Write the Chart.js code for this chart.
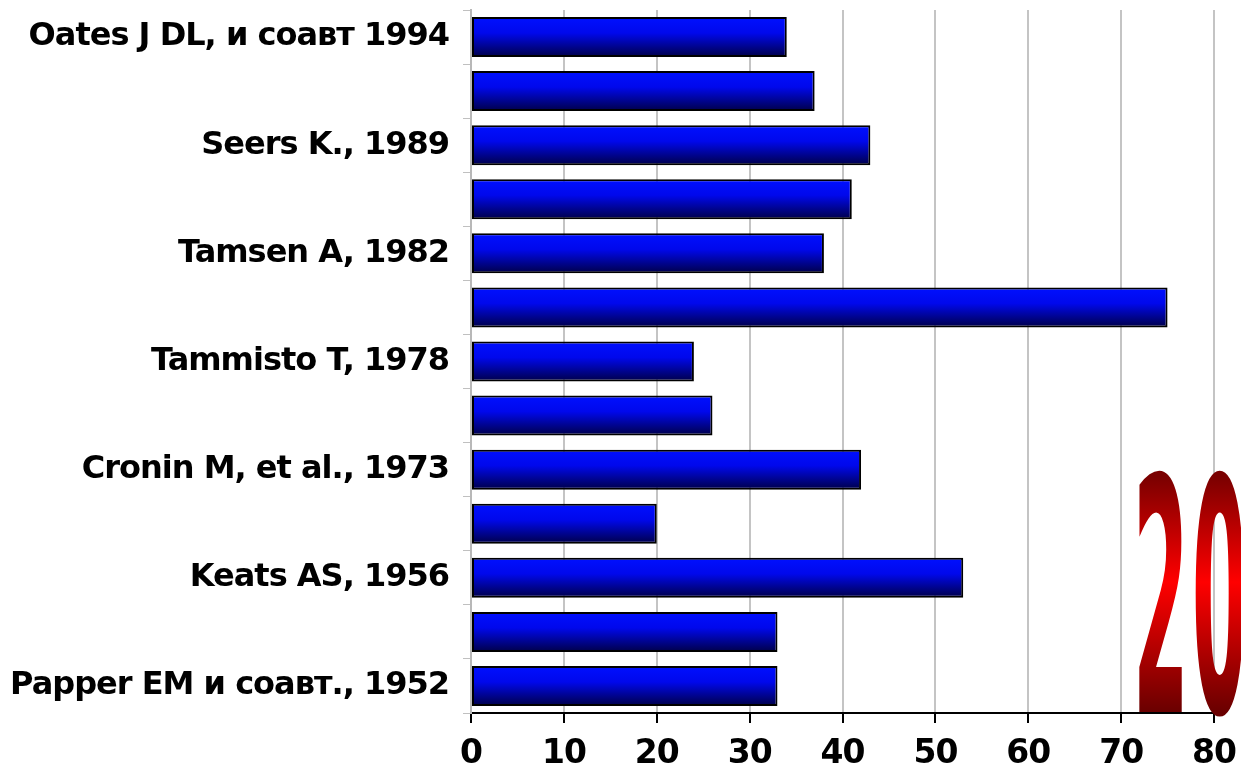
<!DOCTYPE html>
<html>
<head>
<meta charset="utf-8">
<script src="https://cdn.jsdelivr.net/npm/chart.js@4/dist/chart.umd.min.js"></script>
<style>
  html, body { margin: 0; padding: 0; background: #fff; }
  #wrap { width: 1241px; height: 782px; }
</style>
</head>
<body>
<div id="wrap"><canvas id="chart"></canvas></div>
<script>
// categories (only every other one is labelled in the picture)
const studies = [
    "Oates J DL, и соавт 1994", "",
    "Seers K., 1989", "",
    "Tamsen A, 1982", "",
    "Tammisto T, 1978", "",
    "Cronin M, et al., 1973", "",
    "Keats AS, 1956", "",
    "Papper EM и соавт., 1952"
];
const values = [34, 37, 43, 41, 38, 75, 24, 26, 42, 20, 53, 33, 33];
const xTicks = [0, 10, 20, 30, 40, 50, 60, 70, 80];
const bigText = "20";

const barShare = 0.74;

// blue bar gradient built from the y scale position of each bar
function barGradient(context) {
    const chart = context.chart;
    const yScale = chart.scales.y;
    if (!yScale || !chart.chartArea) return "#0010ff";
    const center = yScale.getPixelForValue(context.dataIndex);
    const half = (chart.chartArea.height / studies.length) * barShare / 2;
    const g = chart.ctx.createLinearGradient(0, center - half, 0, center + half);
    g.addColorStop(0, "#0010ff");
    g.addColorStop(0.4, "#0008ec");
    g.addColorStop(1, "#000048");
    return g;
}

// tighter letter spacing for the tick labels
const tightText = {
    id: "tightText",
    beforeDraw(chart) {
        chart.ctx.letterSpacing = "-1px";
    }
};

// big red "20" word art in the lower right corner
const wordArt = {
    id: "wordArt",
    afterDraw(chart) {
        const ctx = chart.ctx;
        const top = 476, bottom = 712;
        const sy = 3.25;
        ctx.save();
        ctx.letterSpacing = "4px";
        ctx.translate(1133, bottom);
        ctx.scale(0.8, sy);
        const h = (bottom - top) / sy;
        const g = ctx.createLinearGradient(0, -h, 0, 0);
        g.addColorStop(0, "#7a0000");
        g.addColorStop(0.45, "#ff0000");
        g.addColorStop(1, "#6a0000");
        ctx.fillStyle = g;
        ctx.font = "bold 100px 'DejaVu Sans'";
        ctx.textAlign = "left";
        ctx.textBaseline = "alphabetic";
        ctx.fillText(bigText, 0, 0);
        ctx.restore();
    }
};

const data = {
    labels: studies,
    datasets: [{
        data: values,
        backgroundColor: barGradient,
        borderColor: "#000000",
        borderWidth: 2,
        borderSkipped: false,
        categoryPercentage: barShare,
        barPercentage: 1
    }]
};

const config = {
    type: "bar",
    data: data,
    options: {
        indexAxis: "y",
        responsive: true,
        maintainAspectRatio: false,
        animation: false,
        layout: { padding: { top: 10, right: 27, left: 0, bottom: 0 } },
        plugins: {
            legend: { display: false },
            title: { display: false },
            tooltip: { enabled: false }
        },
        scales: {
            x: {
                min: 0,
                max: 80,
                afterBuildTicks: (axis) => { axis.ticks = xTicks.map(v => ({ value: v })); },
                afterFit: (axis) => {
                    axis.height = 69;
                    axis.paddingLeft = 0;
                    axis.paddingRight = 0;
                },
                grid: {
                    color: "#c4c4c4",
                    lineWidth: 2,
                    tickColor: "#000000",
                    tickLength: 10,
                    tickWidth: 2
                },
                border: { color: "#000000", width: 2 },
                ticks: {
                    color: "#000000",
                    padding: 12,
                    font: { family: "DejaVu Sans", size: 33, weight: "bold" }
                }
            },
            y: {
                afterFit: (axis) => {
                    axis.width = 471;
                    axis.paddingTop = 0;
                    axis.paddingBottom = 0;
                },
                grid: {
                    drawOnChartArea: false,
                    color: "#c0c0c0",
                    tickLength: 8
                },
                border: { color: "#b8b8b8", width: 2 },
                ticks: {
                    color: "#000000",
                    padding: 14,
                    autoSkip: false,
                    font: { family: "DejaVu Sans", size: 32, weight: "bold" }
                }
            }
        }
    },
    plugins: [tightText, wordArt]
};

const myChart = new Chart(document.getElementById("chart"), config);
</script>
</body>
</html>
